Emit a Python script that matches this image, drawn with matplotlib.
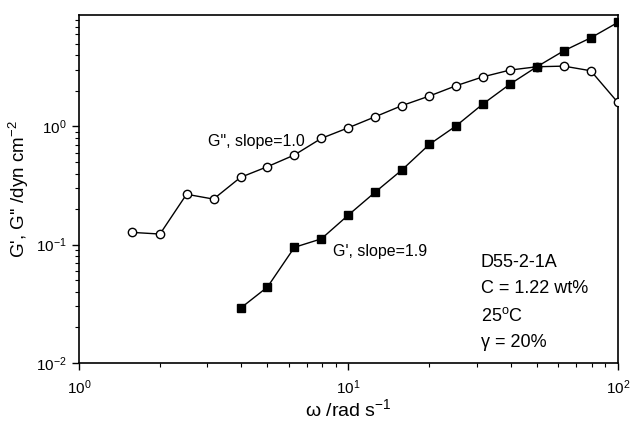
import numpy as np
import matplotlib
matplotlib.use("Agg")
import matplotlib.pyplot as plt

plt.rcParams['font.family'] = ['Liberation Sans', 'DejaVu Sans']
plt.rcParams['mathtext.default'] = 'regular'

# frequencies, 10 points per decade
omega_g2 = [1.58, 2.00, 2.51, 3.16, 3.98, 5.01, 6.31, 7.94, 10.0, 12.6,
            15.8, 20.0, 25.1, 31.6, 39.8, 50.1, 63.1, 79.4, 100.0]
g2 = [0.127, 0.123, 0.267, 0.243, 0.371, 0.457, 0.574, 0.793, 0.975, 1.21,
      1.50, 1.81, 2.21, 2.63, 3.00, 3.20, 3.24, 2.96, 1.60]

omega_g1 = [3.98, 5.01, 6.31, 7.94, 10.0, 12.6, 15.8, 20.0, 25.1, 31.6,
            39.8, 50.1, 63.1, 79.4, 100.0]
g1 = [0.029, 0.0438, 0.095, 0.112, 0.178, 0.279, 0.428, 0.706, 1.01, 1.55,
      2.28, 3.20, 4.37, 5.62, 7.58]

fig = plt.figure(figsize=(6.31, 4.32), dpi=100)
ax = fig.add_axes([0.125, 0.160, 0.854, 0.805])

ax.plot(omega_g2, g2, '-o', color='black', mfc='white', mec='black',
        ms=6, lw=1, mew=1, zorder=3)
ax.plot(omega_g1, g1, '-s', color='black', mfc='black', mec='black',
        ms=5.5, lw=1, zorder=3)

ax.set_xscale('log')
ax.set_yscale('log')
ax.set_xlim(1, 100)
ax.set_ylim(0.01, 8.75)

ax.tick_params(which='both', direction='out', top=False, right=False, labelsize=11)
ax.tick_params(which='major', length=5, width=1)
ax.tick_params(which='minor', length=3, width=0.8)
ax.tick_params(axis='x', which='major', pad=6)
for s in ax.spines.values():
    s.set_linewidth(1.2)

ax.set_xlabel("ω /rad s$^{-1}$", fontsize=14, labelpad=1)
ax.set_ylabel("G', G'' /dyn cm$^{-2}$", fontsize=13.5, labelpad=4)

ax.text(6.9, 0.75, 'G", slope=1.0', fontsize=11.5, ha='right', va='center')
ax.text(8.76, 0.087, "G', slope=1.9", fontsize=11.5, va='center')

notes = ["D55-2-1A", "C = 1.22 wt%", "25$^{o}$C", "γ = 20%"]
for i, t in enumerate(notes):
    ax.text(0.746, 0.29 - i * 0.077, t, transform=ax.transAxes,
            fontsize=13, va='center')

fig.savefig("out.png", dpi=100)
